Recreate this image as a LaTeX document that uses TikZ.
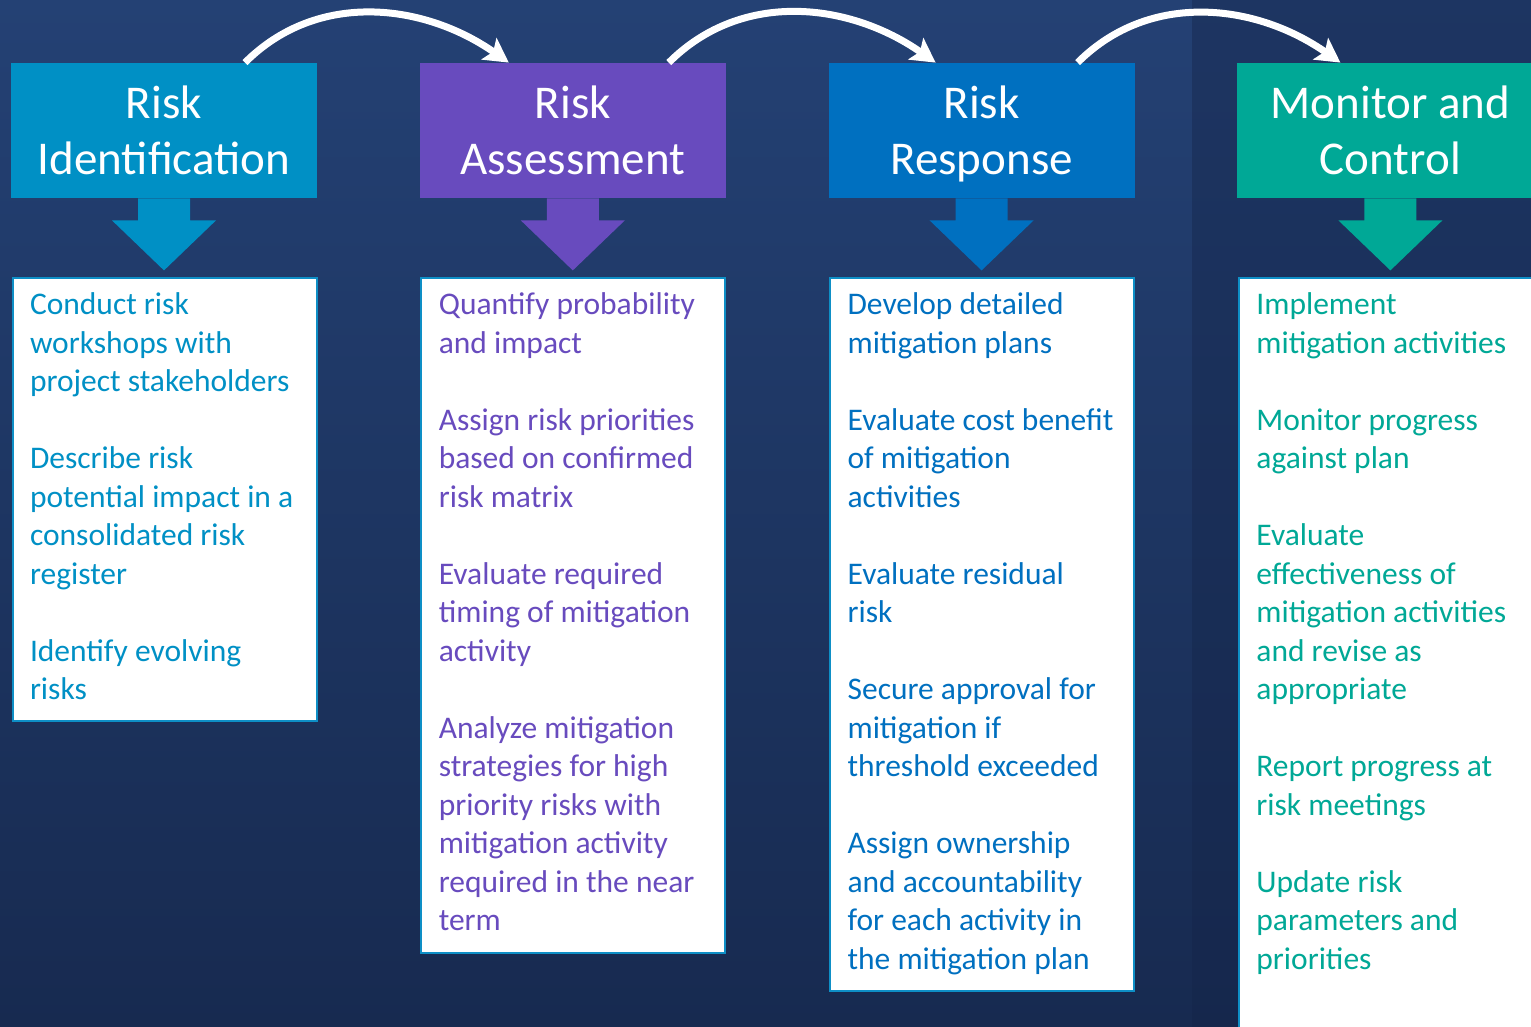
\documentclass[tikz,border=0pt]{standalone}
\usepackage{fontspec}
\setmainfont{Carlito}
\usetikzlibrary{positioning,arrows.meta,calc}

\definecolor{bgtop}{RGB}{36,65,116}
\definecolor{bgbot}{RGB}{23,42,80}
\definecolor{bgdark}{RGB}{20,36,72}
\definecolor{ident}{RGB}{0,144,197}
\definecolor{assess}{RGB}{104,75,190}
\definecolor{resp}{RGB}{0,112,192}
\definecolor{monit}{RGB}{0,168,150}
\definecolor{edge}{RGB}{14,143,198}

\newcommand{\skipline}{\\[19.25pt]}

\tikzset{
  head/.style={fill=#1, text=white, minimum width=153pt, minimum height=67.5pt,
    inner sep=0pt, align=center, text depth=0pt, font=\fontsize{23.5}{28}\selectfont},
  card/.style={draw=edge, line width=1pt, fill=white, minimum width=152pt,
    anchor=north west, inner sep=0pt},
  items/.style={text=#1, align=left, anchor=north west, inner sep=0pt,
    font=\fontsize{15.75}{19.25}\selectfont},
  flow/.style={white, line width=3.5pt, -{Stealth[length=12pt,width=13pt,inset=2.5pt]}},
}

\begin{document}
\begin{tikzpicture}[x=0.5pt,y=0.5pt]
% background
\useasboundingbox (0,0) rectangle (1531,-1027);
\clip (0,0) rectangle (1531,-1027);
\shade[top color=bgtop, bottom color=bgbot] (0,0) rectangle (1531,-1027);
\fill[bgdark, opacity=0.4] (1192,0) rectangle (1531,-1027);

% headers
\node[head=ident] (h1) at (164,-130.5) {Risk\\Identification};
\node[head=assess, right=51pt of h1] (h2) {Risk\\Assessment};
\node[head=resp, right=51pt of h2] (h3) {Risk\\Response};
\node[head=monit, right=51pt of h3] (h4) {Monitor and\\Control};

% down arrows
\foreach \h/\c in {h1/ident,h2/assess,h3/resp,h4/monit}
  \fill[\c] ([xshift=-13pt]\h.south) -- ++(0,-22) -- ++(-26,0) -- ++(52,-50)
    -- ++(52,50) -- ++(-26,0) -- ++(0,22) -- cycle;

% cards
\node[card, minimum height=221.5pt] (b1) at ([shift={(1,-79)}]h1.south west) {};
\node[card, minimum height=337.5pt] (b2) at ([shift={(1,-79)}]h2.south west) {};
\node[card, minimum height=356.5pt] (b3) at ([shift={(1,-79)}]h3.south west) {};
\node[card, minimum height=381.5pt] (b4) at ([shift={(1,-79)}]h4.south west) {};

\node[items=ident] (t1) at ([shift={(18,-15)}]b1.north west)
  {Conduct risk\\workshops with\\project stakeholders\skipline
   Describe risk\\potential impact in a\\consolidated risk\\register\skipline
   Identify evolving\\risks};
\node[items=assess] (t2) at ([shift={(18,-15)}]b2.north west)
  {Quantify probability\\and impact\skipline
   Assign risk priorities\\based on confirmed\\risk matrix\skipline
   Evaluate required\\timing of mitigation\\activity\skipline
   Analyze mitigation\\strategies for high\\priority risks with\\mitigation activity\\required in the near\\term};
\node[items=resp] (t3) at ([shift={(18,-15)}]b3.north west)
  {Develop detailed\\mitigation plans\skipline
   Evaluate cost benefit\\of mitigation\\activities\skipline
   Evaluate residual\\risk\skipline
   Secure approval for\\mitigation if\\threshold exceeded\skipline
   Assign ownership\\and accountability\\for each activity in\\the mitigation plan};
\node[items=monit] (t4) at ([shift={(18,-15)}]b4.north west)
  {Implement\\mitigation activities\skipline
   Monitor progress\\against plan\skipline
   Evaluate\\effectiveness of\\mitigation activities\\and revise as\\appropriate\skipline
   Report progress at\\risk meetings\skipline
   Update risk\\parameters and\\priorities};

% flow between steps
\foreach \a/\b/\s/\e in {h1/h2/40.5/-32, h2/h3/48/-23, h3/h4/48/-25}
  \draw[flow] ([xshift=\s pt]\a.north) to[out=45,in=145] ([xshift=\e pt]\b.north);
\end{tikzpicture}
\end{document}
